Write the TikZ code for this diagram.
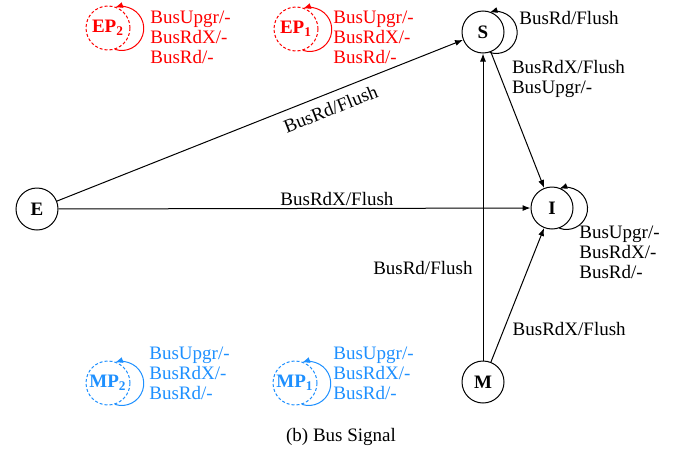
\documentclass[tikz,border=0pt]{standalone}
\usepackage{fontspec}
\setmainfont{Liberation Serif}
\usepackage{tikz}
\usetikzlibrary{arrows.meta, positioning, calc}
\definecolor{myred}{RGB}{255,0,0}
\definecolor{myblue}{RGB}{30,144,255}
\tikzset{
  state/.style={circle, draw, minimum size=21pt, inner sep=0pt,
    font=\bfseries, line width=0.5pt},
  ghost/.style={circle, draw, dash pattern=on 1.5pt off 1pt,
    minimum size=22pt, inner sep=0pt, font=\bfseries, line width=0.5pt},
  lbl/.style={align=left, inner sep=1pt},
  arrow/.style={-{Latex[length=4pt,width=3pt]}, line width=0.5pt}
}

\begin{document}
\fontsize{9.5}{10}\selectfont
\begin{tikzpicture}[x=0.5pt, y=-0.5pt]
  \useasboundingbox (0,0) rectangle (678,455);

  % main states
  \node[state] (S) at (483,32) {S};
  \node[state] (E) at (37,209) {E};
  \node[state] (I) at (552,208) {I};
  \node[state] (M) at (483,382) {M};

  % transitions
  \draw[arrow] (E) -- node[pos=0.66, sloped, below=3pt, lbl] (ESlbl) {BusRd/Flush} (S);
  \draw[arrow] (E) -- node[pos=0.59, above, lbl] (EIlbl) {BusRdX/Flush} (I);
  \draw[arrow] (S) -- node[pos=0.2, right=4pt, lbl] (SIlbl) {BusRdX/Flush\\BusUpgr/-} (I);
  \draw[arrow] (M) -- node[pos=0.3, left=4pt, lbl] (MSlbl) {BusRd/Flush} (S);
  \draw[arrow] (M) -- node[pos=0.25, right=3pt, lbl] (MIlbl) {BusRdX/Flush} (I);

  % self loops
  \draw[arrow] (S.-72) arc[start angle=-108, end angle=108, radius=10.5pt];
  \node[lbl, anchor=west] (Slbl) at ($(S)+(34,-14)$) {BusRd/Flush};
  \draw[arrow] (I.-70) arc[start angle=-110, end angle=110, radius=10.5pt];
  \node[lbl, anchor=north west] (Ilbl) at ($(I)+(25,16)$) {BusUpgr/-\\BusRdX/-\\BusRd/-};

  % processor states
  \node[ghost, draw=myred, text=myred] (EP2) at (108,28) {EP\textsubscript{2}};
  \node[ghost, draw=myred, text=myred] (EP1) at (296,29) {EP\textsubscript{1}};
  \node[ghost, draw=myblue, text=myblue] (MP2) at (108,383) {MP\textsubscript{2}};
  \node[ghost, draw=myblue, text=myblue] (MP1) at (295,383) {MP\textsubscript{1}};

  \draw[arrow, myred] (EP2.-72) arc[start angle=-108, end angle=108, radius=11pt];
  \draw[arrow, myred] (EP1.-72) arc[start angle=-108, end angle=108, radius=11pt];
  \draw[arrow, myblue] (MP2.-72) arc[start angle=-108, end angle=108, radius=11pt];
  \draw[arrow, myblue] (MP1.-72) arc[start angle=-108, end angle=108, radius=11pt];

  \node[lbl, anchor=west, text=myred] (EP2lbl) at (148,37) {BusUpgr/-\\BusRdX/-\\BusRd/-};
  \node[lbl, anchor=west, text=myred] (EP1lbl) at (331,37) {BusUpgr/-\\BusRdX/-\\BusRd/-};
  \node[lbl, anchor=west, text=myblue] (MP2lbl) at (147,373) {BusUpgr/-\\BusRdX/-\\BusRd/-};
  \node[lbl, anchor=west, text=myblue] (MP1lbl) at (331,373) {BusUpgr/-\\BusRdX/-\\BusRd/-};

  % caption
  \node (caption) at (341,437) {(b) Bus Signal};
\end{tikzpicture}
\end{document}
